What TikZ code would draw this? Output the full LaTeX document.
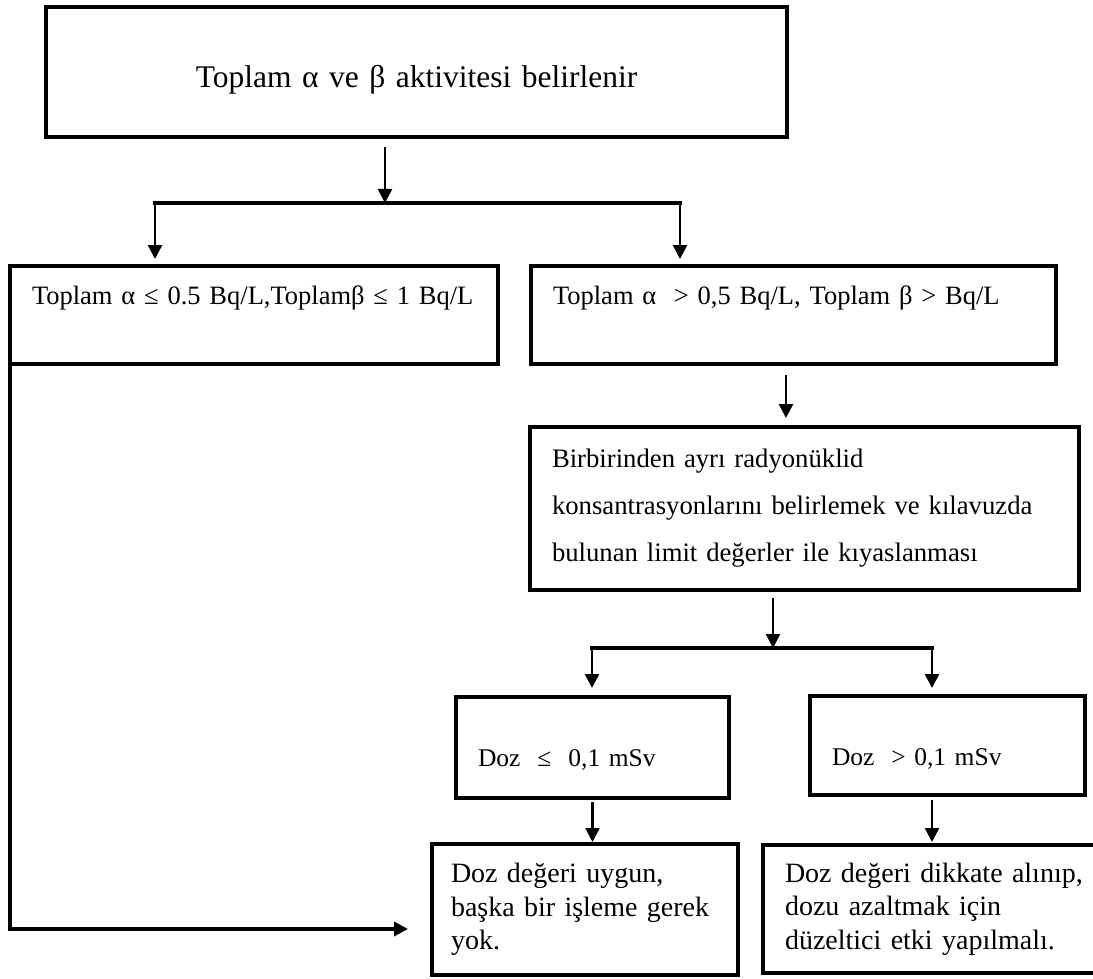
\documentclass[tikz,border=0pt]{standalone}
\usepackage{fontspec}
\setmainfont{Liberation Serif}
\usetikzlibrary{positioning,calc,arrows.meta}
\tikzset{kutu/.style={draw, rectangle, line width=3.5pt, inner xsep=22pt, inner ysep=0pt, outer sep=0pt, align=left, font=\fontsize{26.5}{33}\selectfont},
         ok/.style={->, line width=2.5pt},
         dal/.style={line width=3.5pt, line cap=rect},
         buyukyazi/.style={font=\fontsize{31.5}{38}\selectfont},
         dozyazi/.style={font=\fontsize{25.5}{33}\selectfont},
         altyazi/.style={font=\fontsize{28}{33.5}\selectfont}
}

\begin{document}
\begin{tikzpicture}[x=1pt,y=-1pt,>={Triangle[length=14pt,width=14pt]}]
      \useasboundingbox (0,0) rectangle (1093,979);
      % kutular
      \node[kutu, buyukyazi, align=center, text width=697pt, minimum width=741pt, minimum height=130pt, text height=38pt, text depth=7pt] (toplam) at (416.5,72) {Toplam α ve β aktivitesi belirlenir};
      \node[kutu, text width=444pt, minimum width=488pt, minimum height=98pt, text height=18pt, text depth=40pt] (kucuk) at (254,315) {Toplam α ≤ 0.5 Bq/L,Toplamβ ≤ 1 Bq/L};
      \node[kutu, text width=481pt, minimum width=525pt, minimum height=98pt, text height=18pt, text depth=40pt] (buyuk) at (793.5,315) {Toplam α\ \ > 0,5 Bq/L, Toplam β > Bq/L};
      \node[kutu, font=\fontsize{26.7}{47}\selectfont, text width=505pt, minimum width=549pt, minimum height=163pt] (ayri) at (804.5,508.5) {Birbirinden ayrı radyonüklid\\ konsantrasyonlarını belirlemek ve kılavuzda\\ bulunan limit değerler ile kıyaslanması};
      \node[kutu, dozyazi, text width=229pt, minimum width=273pt, minimum height=101pt, text height=44pt, text depth=7pt] (dozAz) at (592.5,747.5) {Doz\ \ ≤\ \ 0,1 mSv};
      \node[kutu, dozyazi, text width=231pt, minimum width=275pt, minimum height=99pt, text height=46pt, text depth=7pt] (dozCok) at (947.5,745.5) {Doz\ \ > 0,1 mSv};
      \node[kutu, altyazi, inner xsep=19pt, text width=268pt, minimum width=306pt, minimum height=131pt] (uygun) at (585,909.5) {Doz değeri uygun,\\ başka bir işleme gerek\\ yok.};
      \node[kutu, altyazi, text width=310pt, minimum width=354pt, minimum height=128pt] (duzelt) at (940,909) {Doz değeri dikkate alınıp,\\ dozu azaltmak için\\ düzeltici etki yapılmalı.};

      % dallanmalar
      \coordinate (dal1) at (385,203);
      \coordinate (dalSol) at (155,203);
      \coordinate (dalSag) at (680,203);
      \coordinate (dal2) at (773,648);
      \coordinate (dalSol2) at (592,648);
      \coordinate (dalSag2) at (932,648);

      \draw[ok, shorten <=10pt] (toplam.south -| dal1) -- (dal1);
      \draw[dal] (dalSol) -- (dalSag);
      \draw[ok, shorten >=7pt] (dalSol) -- (dalSol |- kucuk.north);
      \draw[ok, shorten >=7pt] (dalSag) -- (dalSag |- buyuk.north);
      \draw[ok, shorten <=11pt, shorten >=9pt] ([xshift=-7.5pt]buyuk.south) -- ([xshift=-7.5pt]buyuk.south |- ayri.north);
      \draw[ok, shorten <=8pt] (ayri.south -| dal2) -- (dal2);
      \draw[dal] (dalSol2) -- (dalSag2);
      \draw[ok, shorten >=9pt] (dalSol2) -- (dalSol2 |- dozAz.north);
      \draw[ok, shorten >=8pt] (dalSag2) -- (dalSag2 |- dozCok.north);
      \draw[ok, shorten <=4pt, shorten >=2pt] (dozAz.south) -- (dozAz.south |- uygun.north);
      \draw[ok, shorten <=5pt, shorten >=3pt] (dalSag2 |- dozCok.south) -- (dalSag2 |- duzelt.north);
      \draw[ok, line width=3.5pt, shorten >=24pt] (kucuk.south west) |- ([yshift=-19.5pt]uygun.west);
\end{tikzpicture}
\end{document}
